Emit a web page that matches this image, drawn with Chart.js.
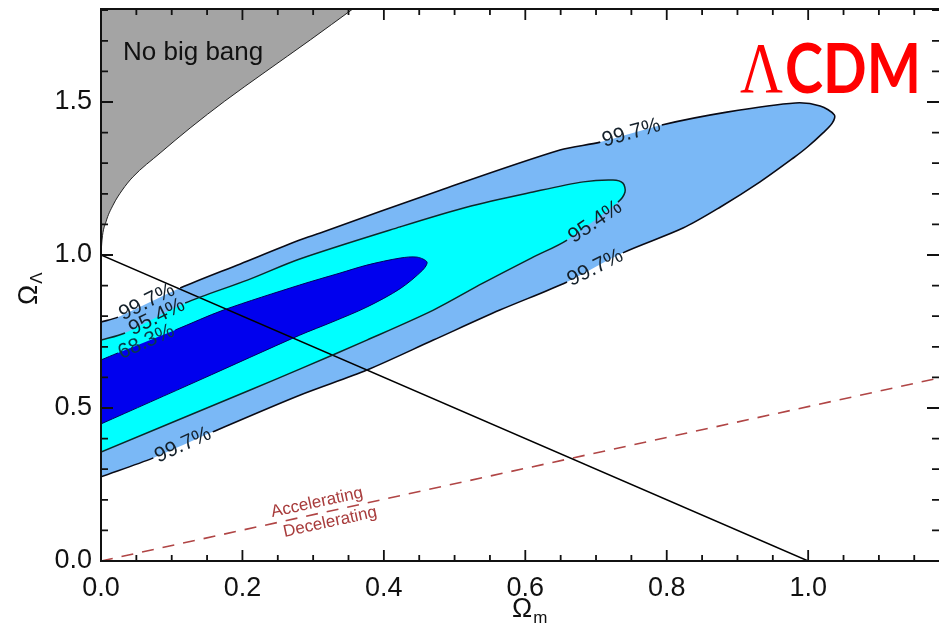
<!DOCTYPE html>
<html><head><meta charset="utf-8">
<script src="https://cdn.jsdelivr.net/npm/chart.js@4/dist/chart.umd.min.js"></script>
<style>html,body{margin:0;padding:0;background:#fff;overflow:hidden}</style>
</head><body>
<canvas id="c" width="939" height="637"></canvas>
<script>
// ---- axis ticks ----
const xTicks = [0, 0.2, 0.4, 0.6, 0.8, 1.0];
const yTicks = [0, 0.5, 1.0, 1.5];
const xMinorStep = 0.05, yMinorStep = 0.1;
const X_MAX = 1.185, Y_MAX = 1.804;

// ---- "No big bang" boundary ----
const noBangM = [0, 0.0014, 0.007, 0.017, 0.030, 0.045, 0.0835, 0.126, 0.175, 0.232, 0.296, 0.356];
const noBangL = [1.0, 1.049, 1.108, 1.163, 1.212, 1.255, 1.333, 1.415, 1.503, 1.598, 1.703, 1.804];

// ---- 99.7% contour (upper edge left->tip, lower edge tip->left) ----
const c997M = [0.000,0.024,0.112,0.197,0.281,0.310,0.479,0.649,0.706,0.793,0.885,0.982,1.017,1.037,1.034,1.021,0.999,0.979,0.932,0.876,0.823,0.738,0.659,0.564,0.470,0.376,0.281,0.158,0.074,0.000];
const c997L = [0.781,0.797,0.892,0.971,1.049,1.072,1.211,1.343,1.369,1.425,1.467,1.497,1.487,1.458,1.431,1.399,1.353,1.317,1.239,1.157,1.088,1.007,0.912,0.820,0.722,0.624,0.542,0.422,0.337,0.275];
const c997Gaps = [1, 8, 21, 27];

// ---- 95.4% contour ----
const c954M = [0.000,0.034,0.119,0.207,0.281,0.423,0.518,0.611,0.682,0.724,0.738,0.741,0.731,0.659,0.611,0.540,0.470,0.376,0.281,0.211,0.000];
const c954L = [0.722,0.745,0.843,0.918,0.987,1.092,1.157,1.206,1.239,1.245,1.235,1.206,1.173,1.049,0.993,0.908,0.820,0.722,0.627,0.559,0.356];
const c954Gaps = [1, 12];

// ---- 68.3% contour ----
const c683M = [0.000,0.024,0.105,0.173,0.281,0.338,0.376,0.423,0.447,0.461,0.455,0.423,0.376,0.328,0.281,0.140,0.000];
const c683L = [0.657,0.680,0.755,0.820,0.902,0.941,0.967,0.990,0.993,0.977,0.951,0.890,0.830,0.782,0.738,0.592,0.448];
const c683Gaps = [1];

// ---- reference lines ----
const flatM = [0, 1];        // Omega_m + Omega_Lambda = 1
const flatL = [1, 0];
const accelM = [0, 1.185];   // accelerating / decelerating boundary
const accelL = [0, 0.598];

// ---- contour labels ----
const cLabText = ['99.7%','95.4%','68.3%','99.7%','95.4%','99.7%','99.7%'];
const cLabM    = [0.065, 0.079, 0.064, 0.116, 0.699, 0.699, 0.750];
const cLabL    = [0.846, 0.797, 0.716, 0.379, 1.108, 0.958, 1.399];
const cLabAng  = [-26.5, -26.5, -24, -24.5, -34, -26.5, -16];

const accTextM = [0.3055, 0.324];
const accTextL = [0.191, 0.127];
const accText = ['Accelerating', 'Decelerating'];

function pts(ms, ls){ return ms.map((m,i)=>({x:m, y:ls[i]})); }
function area(ms, ls, fillColor){
  return { data: pts(ms, ls), showLine: true, fill: 'shape', backgroundColor: fillColor,
           borderWidth: 0, borderColor: 'rgba(0,0,0,0)', pointRadius: 0, tension: 0.3 };
}
function outline(ms, ls, lineColor, lw, gaps){
  return { data: pts(ms, ls), showLine: true, fill: false, borderColor: lineColor, borderWidth: lw,
           pointRadius: 0, tension: 0.3,
           segment: { borderColor: c => gaps.includes(c.p0DataIndex) ? 'rgba(0,0,0,0)' : lineColor } };
}

const datasets = [
  area(c683M, c683L, '#0000ee'),
  area(c954M, c954L, '#00ffff'),
  area(c997M, c997L, '#7ab8f6'),
  { data: pts(noBangM, noBangL), showLine: true, fill: 'end', backgroundColor: '#a4a4a4',
    borderColor: '#222', borderWidth: 1, pointRadius: 0, cubicInterpolationMode: 'monotone' },
  outline(c683M, c683L, '#00005a', 1, c683Gaps),
  outline(c954M, c954L, '#0c2a2a', 1.5, c954Gaps),
  outline(c997M, c997L, '#0a0a14', 1.6, c997Gaps),
  { data: pts(flatM, flatL), showLine: true, fill: false, borderColor: '#000', borderWidth: 1.5, pointRadius: 0 },
  { data: pts(accelM, accelL), showLine: true, fill: false, borderColor: '#b04545', borderWidth: 1.6,
    borderDash: [12, 9], pointRadius: 0 }
];

const tickFont = { family: '"Liberation Sans", Arial, sans-serif', size: 27 };

const overlay = {
  id: 'overlay',
  afterDatasetsDraw(chart){
    const ctx = chart.ctx, xs = chart.scales.x, ys = chart.scales.y;
    ctx.save();
    ctx.font = '21px "Liberation Sans", Arial, sans-serif';
    ctx.textAlign = 'center'; ctx.textBaseline = 'middle';
    cLabText.forEach((t,i)=>{
      ctx.save();
      ctx.translate(xs.getPixelForValue(cLabM[i]), ys.getPixelForValue(cLabL[i]));
      ctx.rotate(cLabAng[i]*Math.PI/180);
      ctx.fillStyle = i === 2 ? '#0a3a4a' : '#14202a';
      ctx.fillText(t, 0, 0);
      ctx.restore();
    });
    const ang = Math.atan2(ys.getPixelForValue(accelL[1]) - ys.getPixelForValue(accelL[0]),
                           xs.getPixelForValue(accelM[1]) - xs.getPixelForValue(accelM[0]));
    ctx.font = '17px "Liberation Sans", Arial, sans-serif';
    ctx.fillStyle = '#a83c3c';
    accText.forEach((t,i)=>{
      ctx.save();
      ctx.translate(xs.getPixelForValue(accTextM[i]), ys.getPixelForValue(accTextL[i]));
      ctx.rotate(ang);
      ctx.fillText(t, 0, 0);
      ctx.restore();
    });
    ctx.textAlign = 'left'; ctx.textBaseline = 'alphabetic';
    ctx.fillStyle = '#111';
    ctx.font = '26px "Liberation Sans", Arial, sans-serif';
    ctx.fillText('No big bang', 123, 60);
    ctx.restore();
  },
  afterDraw(chart){
    const ctx = chart.ctx, a = chart.chartArea, xs = chart.scales.x, ys = chart.scales.y;
    ctx.save();
    ctx.strokeStyle = '#111'; ctx.lineWidth = 2;
    ctx.beginPath();
    ctx.moveTo(a.right + 2, a.top); ctx.lineTo(a.left, a.top); ctx.lineTo(a.left, a.bottom); ctx.lineTo(a.right + 2, a.bottom);
    ctx.stroke();
    ctx.lineWidth = 1.8;
    ctx.beginPath();
    const isMajor = (v, arr) => arr.some(t => Math.abs(t - v) < 1e-6);
    for (let v = 0; v <= X_MAX + 1e-9; v += xMinorStep) {
      const vv = Math.round(v*100)/100, px = xs.getPixelForValue(vv);
      const len = isMajor(vv, xTicks) ? 11 : 6;
      ctx.moveTo(px, a.bottom); ctx.lineTo(px, a.bottom - len);
      ctx.moveTo(px, a.top); ctx.lineTo(px, a.top + len);
    }
    for (let v = 0; v <= Y_MAX + 1e-9; v += yMinorStep) {
      const vv = Math.round(v*10)/10, py = ys.getPixelForValue(vv);
      const len = isMajor(vv, yTicks) ? 12 : 7;
      ctx.moveTo(a.left, py); ctx.lineTo(a.left + len, py);
      ctx.moveTo(a.right, py); ctx.lineTo(a.right - len, py);
    }
    ctx.stroke();

    ctx.fillStyle = '#111';
    ctx.textBaseline = 'alphabetic'; ctx.textAlign = 'left';
    ctx.font = '27px "Liberation Sans", Arial, sans-serif';
    const wO = ctx.measureText('Ω').width;
    ctx.fillText('Ω', 512, 617);
    ctx.font = '17px "Liberation Sans", Arial, sans-serif';
    ctx.fillText('m', 513 + wO, 623);
    ctx.save();
    ctx.translate(37, 305);
    ctx.rotate(-Math.PI/2);
    ctx.font = '27px "Liberation Sans", Arial, sans-serif';
    ctx.fillText('Ω', 0, 0);
    ctx.font = '17px "Liberation Sans", Arial, sans-serif';
    ctx.fillText('Λ', wO + 1, 5);
    ctx.restore();

    ctx.fillStyle = '#ff0000';
    ctx.font = '72px "Liberation Serif", serif';
    let w = ctx.measureText('Λ').width;
    ctx.save(); ctx.translate(740, 92); ctx.scale(43 / w, 1); ctx.fillText('Λ', 0, 0); ctx.restore();
    ctx.font = 'bold 68px Lato, "DejaVu Sans", sans-serif';
    w = ctx.measureText('CDM').width;
    ctx.save(); ctx.translate(785, 93); ctx.scale(136 / w, 1); ctx.fillText('CDM', 0, 0); ctx.restore();
    ctx.restore();
  }
};

function noPad(s){ s.paddingTop = 0; s.paddingBottom = 0; s.paddingLeft = 0; s.paddingRight = 0; }

new Chart(document.getElementById('c'), {
  type: 'scatter',
  data: { datasets },
  options: {
    responsive: false, animation: false,
    layout: { padding: { top: 9, right: 0, left: 0, bottom: 0 } },
    plugins: { legend: { display: false }, tooltip: { enabled: false },
               filler: { drawTime: 'beforeDatasetsDraw' } },
    scales: {
      x: { type: 'linear', min: 0, max: X_MAX,
           afterBuildTicks: s => { s.ticks = xTicks.map(v => ({ value: v })); },
           afterFit: s => { s.height = 76; noPad(s); },
           grid: { display: false, drawTicks: false }, border: { display: false },
           ticks: { font: tickFont, color: '#111', padding: 11, maxRotation: 0,
                    callback: v => Number(v).toFixed(1) } },
      y: { type: 'linear', min: 0, max: Y_MAX,
           afterBuildTicks: s => { s.ticks = yTicks.map(v => ({ value: v })); },
           afterFit: s => { s.width = 101; noPad(s); },
           grid: { display: false, drawTicks: false }, border: { display: false },
           ticks: { font: tickFont, color: '#111', padding: 9,
                    callback: v => Number(v).toFixed(1) } }
    }
  },
  plugins: [overlay]
});
</script>
</body></html>
